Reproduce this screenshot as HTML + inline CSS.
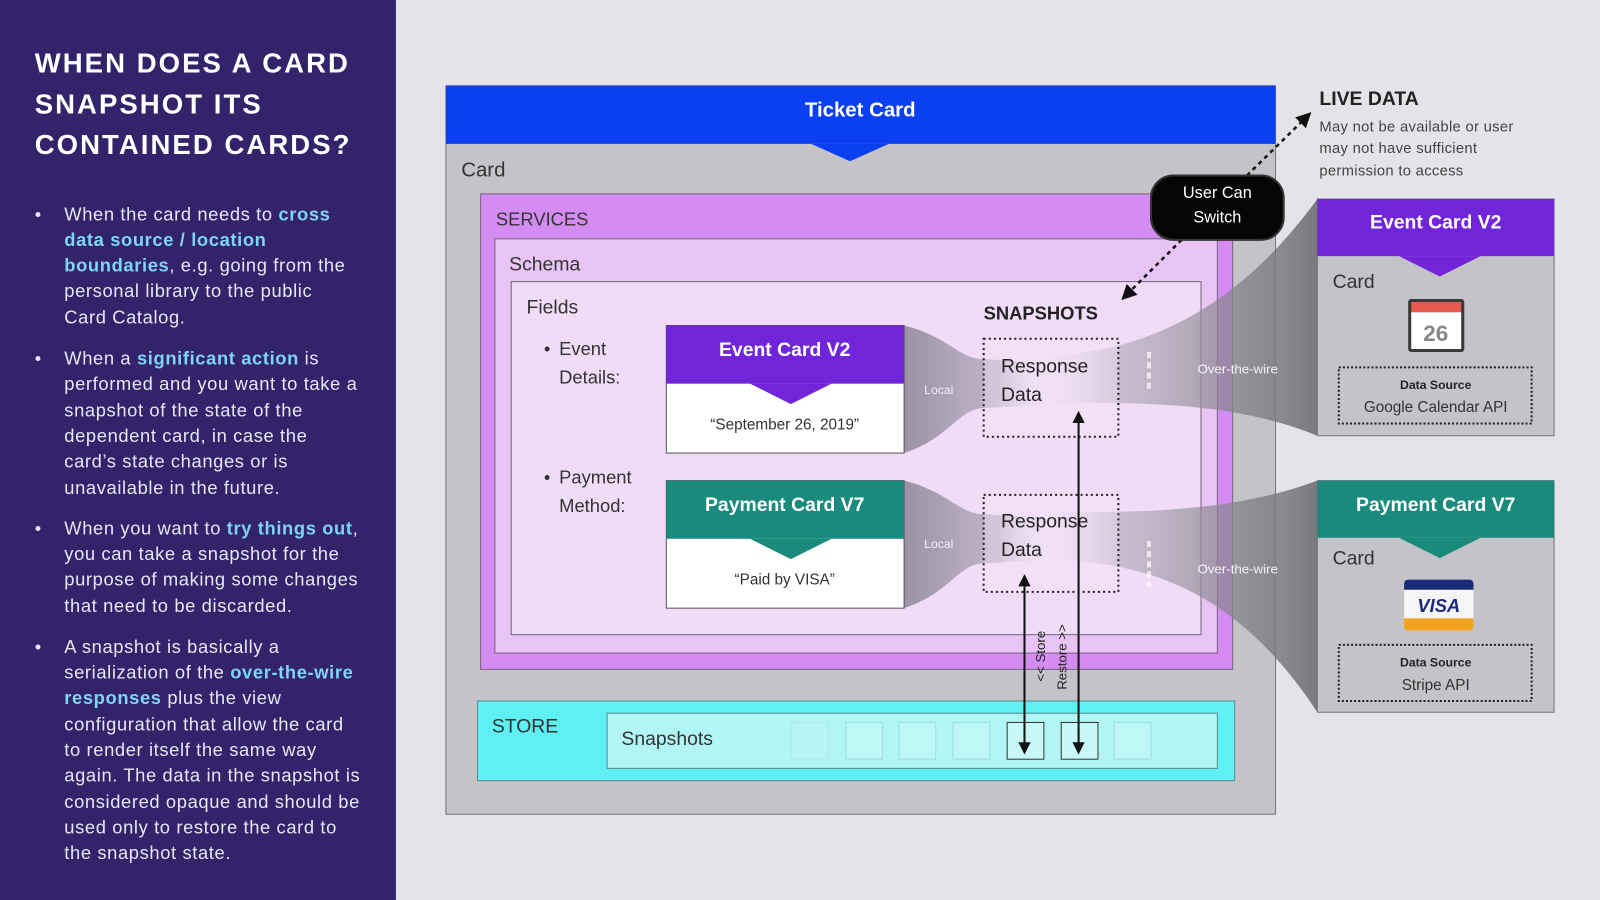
<!DOCTYPE html>
<html><head><meta charset="utf-8"><style>
html,body{margin:0;padding:0;background:#e4e3e8;}
svg{display:block;font-family:"Liberation Sans",sans-serif;}
</style></head><body>
<svg width="1600" height="900" viewBox="0 0 1568 882" xmlns="http://www.w3.org/2000/svg">
<defs>
<linearGradient id="gl" x1="0" x2="1" y1="0" y2="0"><stop offset="0" stop-color="#8a8596" stop-opacity="0.85"/><stop offset="0.6" stop-color="#9a93a6" stop-opacity="0.55"/><stop offset="1" stop-color="#ffffff" stop-opacity="0"/></linearGradient>
<linearGradient id="gw" x1="0" x2="1" y1="0" y2="0"><stop offset="0" stop-color="#ffffff" stop-opacity="0"/><stop offset="0.3" stop-color="#a8a2b0" stop-opacity="0.5"/><stop offset="1" stop-color="#6e6e72" stop-opacity="0.9"/></linearGradient>
<marker id="ah" viewBox="0 0 10 10" refX="8" refY="5" markerWidth="6" markerHeight="6" orient="auto-start-reverse"><path d="M0,0 L10,5 L0,10 z" fill="#111"/></marker>
</defs>
<rect width="1568" height="882" fill="#e4e3e8"/>
<!-- left panel -->
<rect x="0" y="0" width="388" height="882" fill="#32236a"/>
<g fill="#ffffff" font-weight="bold" font-size="27" letter-spacing="2">
<text x="34" y="71">WHEN DOES A CARD</text>
<text x="34" y="111">SNAPSHOT ITS</text>
<text x="34" y="151">CONTAINED CARDS?</text>
</g>
<g fill="#e8e6f2" font-size="18" letter-spacing="0.6">
<text x="34" y="216">•</text><text x="34" y="357">•</text><text x="34" y="524">•</text><text x="34" y="640">•</text>
<text x="63" y="216">When the card needs to <tspan fill="#7fd6f0" font-weight="bold">cross</tspan></text>
<text x="63" y="241" fill="#7fd6f0" font-weight="bold">data source / location</text>
<text x="63" y="266"><tspan fill="#7fd6f0" font-weight="bold">boundaries</tspan>, e.g. going from the</text>
<text x="63" y="291">personal library to the public</text>
<text x="63" y="317">Card Catalog.</text>
<text x="63" y="357">When a <tspan fill="#7fd6f0" font-weight="bold">significant action</tspan> is</text>
<text x="63" y="382">performed and you want to take a</text>
<text x="63" y="408">snapshot of the state of the</text>
<text x="63" y="433">dependent card, in case the</text>
<text x="63" y="458">card’s state changes or is</text>
<text x="63" y="484">unavailable in the future.</text>
<text x="63" y="524">When you want to <tspan fill="#7fd6f0" font-weight="bold">try things out</tspan>,</text>
<text x="63" y="549">you can take a snapshot for the</text>
<text x="63" y="574">purpose of making some changes</text>
<text x="63" y="600">that need to be discarded.</text>
<text x="63" y="640">A snapshot is basically a</text>
<text x="63" y="665">serialization of the <tspan fill="#7fd6f0" font-weight="bold">over-the-wire</tspan></text>
<text x="63" y="690"><tspan fill="#7fd6f0" font-weight="bold">responses</tspan> plus the view</text>
<text x="63" y="716">configuration that allow the card</text>
<text x="63" y="741">to render itself the same way</text>
<text x="63" y="766">again. The data in the snapshot is</text>
<text x="63" y="792">considered opaque and should be</text>
<text x="63" y="817">used only to restore the card to</text>
<text x="63" y="842">the snapshot state.</text>
</g>
<!-- ticket card -->
<rect x="437" y="84" width="813" height="714" fill="#c4c3c8" stroke="#76747c"/>
<rect x="437" y="84" width="813" height="57" fill="#0a3ff2"/>
<path d="M795,141 L871,141 L833,158 Z" fill="#0a3ff2"/>
<text x="843" y="114" fill="#fff" font-size="20" font-weight="bold" text-anchor="middle">Ticket Card</text>
<text x="452" y="173" fill="#333" font-size="20">Card</text>
<rect x="471" y="190" width="737" height="466" fill="#d48cf2" stroke="#76647c"/>
<text x="486" y="221" fill="#333" font-size="18">SERVICES</text>
<rect x="485" y="234" width="708" height="406" fill="#e8c4f5" stroke="#76647c"/>
<text x="499" y="265" fill="#333" font-size="19">Schema</text>
<rect x="501" y="276" width="676" height="346" fill="#f1dcf7" stroke="#76647c"/>
<text x="516" y="307" fill="#333" font-size="19">Fields</text>
<g fill="#333" font-size="18"><text x="533" y="348">•</text><text x="548" y="348">Event</text><text x="548" y="376">Details:</text>
<text x="533" y="474">•</text><text x="548" y="474">Payment</text><text x="548" y="502">Method:</text></g>
<text x="964" y="313" fill="#222" font-size="18" font-weight="bold">SNAPSHOTS</text>
<!-- local funnels -->
<path d="M886,319 C930,330 940,352 964,352 L1040,356 L1040,396 L964,400 C940,400 930,430 886,444 Z" fill="url(#gl)"/>
<path d="M886,471 C930,482 940,504 964,504 L1040,508 L1040,548 L964,552 C940,552 930,582 886,596 Z" fill="url(#gl)"/>
<text x="920" y="386" fill="#f4eef8" font-size="12" text-anchor="middle">Local</text>
<text x="920" y="537" fill="#f4eef8" font-size="12" text-anchor="middle">Local</text>
<!-- over-the-wire funnels -->
<path d="M1000,350 C1100,350 1200,320 1291,195 L1291,427 C1200,390 1100,395 1000,395 Z" fill="url(#gw)"/>
<path d="M1000,502 C1100,502 1200,505 1291,471 L1291,698 C1200,560 1100,548 1000,548 Z" fill="url(#gw)"/>
<line x1="1126" y1="345" x2="1126" y2="385" stroke="#fff" stroke-width="4" stroke-dasharray="6,4" opacity="0.7"/>
<line x1="1126" y1="530" x2="1126" y2="575" stroke="#fff" stroke-width="4" stroke-dasharray="6,4" opacity="0.7"/>
<text x="1213" y="366" fill="#f4f4f4" font-size="13" text-anchor="middle">Over-the-wire</text>
<text x="1213" y="562" fill="#f4f4f4" font-size="13" text-anchor="middle">Over-the-wire</text>
<!-- response boxes -->
<rect x="964" y="332" width="132" height="96" fill="#f5e6f9" fill-opacity="0.35" stroke="#222" stroke-width="2" stroke-dasharray="2,3"/>
<rect x="964" y="485" width="132" height="95" fill="#f5e6f9" fill-opacity="0.35" stroke="#222" stroke-width="2" stroke-dasharray="2,3"/>
<g fill="#222" font-size="19"><text x="981" y="365">Response</text><text x="981" y="393">Data</text><text x="981" y="517">Response</text><text x="981" y="545">Data</text></g>
<!-- inner cards -->
<rect x="653" y="319" width="233" height="125" fill="#fff" stroke="#555"/>
<rect x="653" y="319" width="233" height="57" fill="#7125d8"/>
<path d="M735,376 L815,376 L775,396 Z" fill="#7125d8"/>
<text x="769" y="349" fill="#fff" font-size="19" font-weight="bold" text-anchor="middle">Event Card V2</text>
<text x="769" y="421" fill="#333" font-size="15" text-anchor="middle">“September 26, 2019”</text>
<rect x="653" y="471" width="233" height="125" fill="#fff" stroke="#555"/>
<rect x="653" y="471" width="233" height="57" fill="#1a8a7c"/>
<path d="M735,528 L815,528 L775,548 Z" fill="#1a8a7c"/>
<text x="769" y="501" fill="#fff" font-size="19" font-weight="bold" text-anchor="middle">Payment Card V7</text>
<text x="769" y="573" fill="#333" font-size="15" text-anchor="middle">“Paid by VISA”</text>
<!-- store -->
<rect x="468" y="687" width="742" height="78" fill="#5ef0f2" stroke="#5a8a8c"/>
<text x="482" y="718" fill="#333" font-size="19">STORE</text>
<rect x="595" y="699" width="598" height="54" fill="#b2f5f5" stroke="#5a8a8c"/>
<text x="609" y="730" fill="#333" font-size="19">Snapshots</text>
<g stroke="#9adede" fill="#bff7f7"><rect x="776" y="708" width="36" height="36" opacity="0.4"/><rect x="829" y="708" width="36" height="36"/><rect x="881" y="708" width="36" height="36"/><rect x="934" y="708" width="36" height="36"/><rect x="1092" y="708" width="36" height="36"/></g>
<rect x="987" y="708" width="36" height="36" fill="#c8f8f8" stroke="#333"/>
<rect x="1040" y="708" width="36" height="36" fill="#c8f8f8" stroke="#333"/>
<line x1="1004" y1="565" x2="1004" y2="737" stroke="#111" stroke-width="2" marker-start="url(#ah)" marker-end="url(#ah)"/>
<line x1="1057" y1="405" x2="1057" y2="737" stroke="#111" stroke-width="2" marker-start="url(#ah)" marker-end="url(#ah)"/>
<text transform="translate(1024,668) rotate(-90)" fill="#222" font-size="13">&lt;&lt; Store</text>
<text transform="translate(1045,676) rotate(-90)" fill="#222" font-size="13">Restore &gt;&gt;</text>
<!-- user can switch -->
<line x1="1222" y1="172" x2="1283" y2="112" stroke="#111" stroke-width="2.5" stroke-dasharray="4,4" marker-end="url(#ah)"/>
<line x1="1158" y1="235" x2="1101" y2="292" stroke="#111" stroke-width="2.5" stroke-dasharray="4,4" marker-end="url(#ah)"/>
<rect x="1128" y="172" width="130" height="63" rx="22" fill="#050505" stroke="#333" stroke-width="2"/>
<text x="1193" y="194" fill="#fff" font-size="16" text-anchor="middle">User Can</text>
<text x="1193" y="218" fill="#fff" font-size="16" text-anchor="middle">Switch</text>
<text x="1293" y="103" fill="#222" font-size="19" font-weight="bold">LIVE DATA</text>
<g fill="#444" font-size="14.5" letter-spacing="0.3"><text x="1293" y="129">May not be available or user</text><text x="1293" y="150">may not have sufficient</text><text x="1293" y="172">permission to access</text></g>
<!-- right event card -->
<rect x="1291" y="195" width="232" height="232" fill="#c4c3c8" stroke="#76747c"/>
<rect x="1291" y="195" width="232" height="56" fill="#7125d8"/>
<path d="M1371,251 L1451,251 L1411,271 Z" fill="#7125d8"/>
<text x="1407" y="224" fill="#fff" font-size="19" font-weight="bold" text-anchor="middle">Event Card V2</text>
<text x="1306" y="282" fill="#333" font-size="19">Card</text>
<rect x="1380" y="293" width="55" height="52" rx="3" fill="#3a3a3a"/>
<rect x="1383" y="296" width="49" height="10" fill="#e85a50"/>
<rect x="1383" y="306" width="49" height="36" fill="#fff"/>
<text x="1407" y="334" fill="#888" font-size="22" font-weight="bold" text-anchor="middle">26</text>
<rect x="1312" y="360" width="189" height="55" fill="none" stroke="#222" stroke-width="2" stroke-dasharray="2,2"/>
<text x="1407" y="381" fill="#222" font-size="12" font-weight="bold" text-anchor="middle">Data Source</text>
<text x="1407" y="404" fill="#333" font-size="15" text-anchor="middle">Google Calendar API</text>
<!-- right payment card -->
<rect x="1291" y="471" width="232" height="227" fill="#c4c3c8" stroke="#76747c"/>
<rect x="1291" y="471" width="232" height="56" fill="#1a8a7c"/>
<path d="M1371,527 L1451,527 L1411,547 Z" fill="#1a8a7c"/>
<text x="1407" y="501" fill="#fff" font-size="19" font-weight="bold" text-anchor="middle">Payment Card V7</text>
<text x="1306" y="553" fill="#333" font-size="19">Card</text>
<rect x="1376" y="568" width="68" height="50" rx="4" fill="#f5f5f5"/>
<path d="M1376,578 v-6 a4,4 0 0 1 4,-4 h60 a4,4 0 0 1 4,4 v6 z" fill="#1b2a78"/>
<path d="M1376,606 h68 v8 a4,4 0 0 1 -4,4 h-60 a4,4 0 0 1 -4,-4 z" fill="#f0a21c"/>
<text x="1410" y="600" fill="#1b2a78" font-size="18" font-weight="bold" font-style="italic" text-anchor="middle">VISA</text>
<rect x="1312" y="632" width="189" height="55" fill="none" stroke="#222" stroke-width="2" stroke-dasharray="2,2"/>
<text x="1407" y="653" fill="#222" font-size="12" font-weight="bold" text-anchor="middle">Data Source</text>
<text x="1407" y="676" fill="#333" font-size="15" text-anchor="middle">Stripe API</text>
</svg>
</body></html>
